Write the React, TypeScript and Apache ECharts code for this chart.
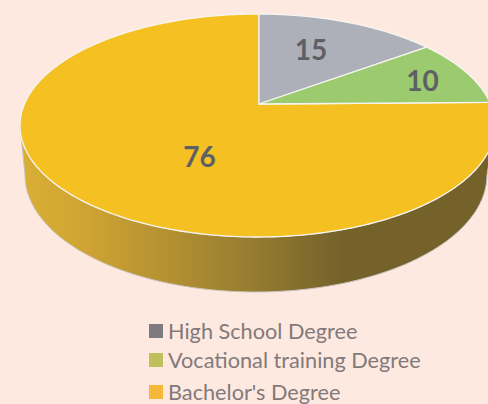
import React, { useEffect, useRef } from "react";
import * as echarts from "echarts";

const categories = ["High School Degree", "Vocational training Degree", "Bachelor's Degree"];
const values = [15, 10, 76];
const sliceColors = ["#ADB0B8", "#9BCB6E", "#F5C022"];
const legendColors = ["#7E7A80", "#BFBF5E", "#F7B73B"];
const labelReach = [0.55, 0.77, 0.36];
const labelNudge = [[-1, -7], [0, 1], [3, 23]];
const legendTops = [315, 344, 376];

const APEX = { x: 259, y: 104 };
const TOP = { cx: 257.5, cy: 125.5, rx: 237.5, ry: 111.5 };
const BOTTOM = { cx: 256, cy: 175, rx: 231, ry: 117 };
const TILT = { a: 235, b: 107.4, k: 0.1928 };
const total = values.reduce((s, v) => s + v, 0);

function direction(theta: number, r = 1) {
  const X = Math.sin(theta) * r;
  const Y = -Math.cos(theta) * r;
  const d = 1 - TILT.k * Y;
  return { dx: (TILT.a * X) / d, dy: (TILT.b * Y) / d };
}

function rimPoint(theta: number): number[] {
  const { dx, dy } = direction(theta);
  const ox = (APEX.x - TOP.cx) / TOP.rx;
  const oy = (APEX.y - TOP.cy) / TOP.ry;
  const ux = dx / TOP.rx;
  const uy = dy / TOP.ry;
  const a = ux * ux + uy * uy;
  const b = 2 * (ox * ux + oy * uy);
  const c = ox * ox + oy * oy - 1;
  const t = (-b + Math.sqrt(b * b - 4 * a * c)) / (2 * a);
  return [APEX.x + t * dx, APEX.y + t * dy];
}

function wallPolygon(): number[][] {
  const pts: number[][] = [];
  for (let i = 0; i <= 180; i += 2) {
    const f = (i * Math.PI) / 180;
    pts.push([TOP.cx + TOP.rx * Math.cos(f), TOP.cy + TOP.ry * Math.sin(f)]);
  }
  for (let i = 180; i >= 0; i -= 2) {
    const f = (i * Math.PI) / 180;
    pts.push([BOTTOM.cx + BOTTOM.rx * Math.cos(f), BOTTOM.cy + BOTTOM.ry * Math.sin(f)]);
  }
  return pts;
}

function sliceRenderer(index: number) {
  const before = values.slice(0, index).reduce((s, v) => s + v, 0);
  return (_params: any, api: any) => {
    const value = api.value(0);
    const start = (before / total) * Math.PI * 2;
    const end = ((before + value) / total) * Math.PI * 2;
    const pts: number[][] = [[APEX.x, APEX.y]];
    const steps = Math.max(8, Math.round(((end - start) * 180) / Math.PI));
    for (let i = 0; i <= steps; i++) pts.push(rimPoint(start + ((end - start) * i) / steps));
    const mid = direction((start + end) / 2, labelReach[index]);
    const children: any[] = [];
    if (index === 2) {
      children.push({
        type: "polygon",
        shape: { points: wallPolygon() },
        style: {
          fill: new echarts.graphic.LinearGradient(
            0, 0, 488, 0,
            [
              { offset: 0.04, color: "#D9B035" },
              { offset: 0.18, color: "#CFA333" },
              { offset: 0.49, color: "#9B8031" },
              { offset: 0.7, color: "#75622B" },
              { offset: 1, color: "#75622B" },
            ],
            true
          ),
          stroke: "#C9C4BE",
          lineWidth: 1,
        },
      });
    }
    children.push({
      type: "polygon",
      shape: { points: pts },
      style: { fill: sliceColors[index], stroke: "#F7F5F2", lineWidth: 1.3 },
    });
    children.push({
      type: "text",
      style: {
        text: String(value),
        x: APEX.x + mid.dx + labelNudge[index][0],
        y: APEX.y + mid.dy + labelNudge[index][1],
        fill: "#5F5F66",
        fontSize: 28,
        fontWeight: "bold",
        fontFamily: "Lato",
        align: "center",
        verticalAlign: "middle",
      },
    });
    return { type: "group", children };
  };
}

export default function App() {
  const ref = useRef<HTMLDivElement>(null);
  useEffect(() => {
    document.body.style.margin = "0";
    const chart = echarts.init(ref.current!, null, { renderer: "svg" });
    chart.setOption({
      animation: false,
      backgroundColor: "#FDE9DF",
      legend: categories.map((name, i) => ({
        data: [{ name, icon: "rect" }],
        left: 144,
        top: legendTops[i],
        itemWidth: 14,
        itemHeight: 14,
        selectedMode: false,
        textStyle: { color: "#83797B", fontSize: 21.7, fontFamily: "Lato", padding: [0, 0, 0, 0] },
      })),
      series: categories.map((name, i) => ({
        type: "custom",
        name,
        coordinateSystem: "none",
        itemStyle: { color: legendColors[i] },
        z: i === 2 ? 1 : 2,
        silent: true,
        data: [[values[i]]],
        renderItem: sliceRenderer(i),
      })),
    });
    return () => chart.dispose();
  }, []);
  return <div ref={ref} style={{ width: 488, height: 404, position: "absolute", left: 0, top: 0, overflow: "hidden" }} />;
}
